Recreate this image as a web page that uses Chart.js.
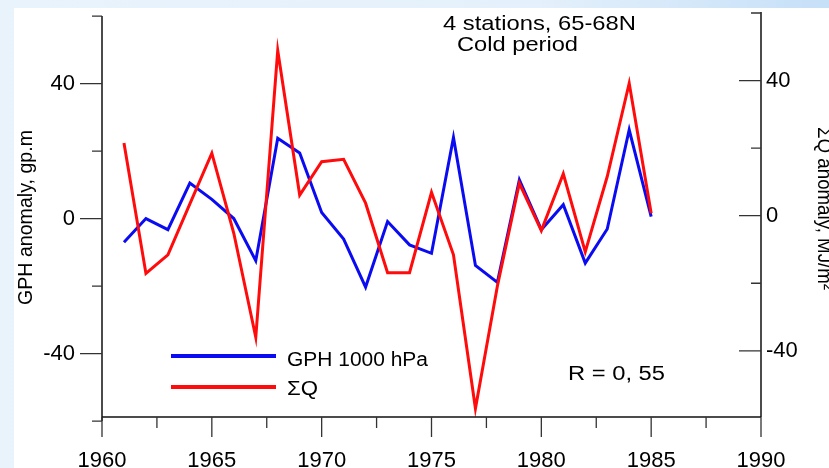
<!DOCTYPE html>
<html>
<head>
<meta charset="utf-8">
<title>GPH anomaly and ΣQ, cold period</title>
<script src="https://cdn.jsdelivr.net/npm/chart.js@4.4.1/dist/chart.umd.min.js"></script>
<style>
  html, body { margin: 0; padding: 0; }
  body {
    width: 829px; height: 468px; overflow: hidden; position: relative;
    background: linear-gradient(90deg, #e9f3fc 0%, #e4f0fb 65%, #c6e0f8 100%);
  }
  #paper { position: absolute; left: 14px; top: 8px; right: 0; bottom: 0; background: #fff; }
  #wrap { position: absolute; left: 0; top: 0; width: 829px; height: 468px; }
</style>
</head>
<body>
<div id="paper"></div>
<div id="wrap"><canvas id="chart"></canvas></div>
<script>
// ---- data ----
const YEARS = [1961, 1962, 1963, 1964, 1965, 1966, 1967, 1968, 1969, 1970, 1971, 1972, 1973,
               1974, 1975, 1976, 1977, 1978, 1979, 1980, 1981, 1982, 1983, 1984, 1985];
// GPH 1000 hPa anomaly, gp.m (left axis)
const GPH = [-7.0, 0.0, -3.3, 10.5, 5.7, 0.0, -12.5, 23.8, 19.4, 1.8, -6.1, -20.3, -0.9,
             -7.8, -10.3, 24.0, -13.9, -18.9, 11.5, -3.3, 4.1, -13.2, -3.1, 26.3, 0.6];
// ΣQ anomaly, MJ/m2 (right axis)
const SUM_Q = [21.5, -17.1, -11.6, 3.5, 18.5, -5.2, -36.0, 48.9, 6.1, 16.0, 16.7, 3.7, -16.9,
               -16.9, 6.9, -11.6, -57.1, -20.8, 9.6, -4.4, 12.4, -10.7, 11.6, 39.2, 0.7];

// ---- axis ticks ----
const X_LABELS = [1960, 1965, 1970, 1975, 1980, 1985, 1990];
const X_MINOR = [1962.5, 1967.5, 1972.5, 1977.5, 1982.5, 1987.5];
const Y_LABELS = [-40, 0, 40];
const Y_MINOR = [-60, -20, 20, 60];

const FONT = "'Liberation Sans', Arial, sans-serif";

// draw text squeezed/stretched to a given width (the original lettering is wide)
function fitText(ctx, text, x, y, size, width, angle, align) {
  ctx.save();
  ctx.font = `${size}px ${FONT}`;
  ctx.textAlign = align || "left";
  ctx.textBaseline = "alphabetic";
  ctx.fillStyle = "#000";
  ctx.translate(x, y);
  if (angle) ctx.rotate(angle);
  const w = ctx.measureText(text).width;
  ctx.scale(width / w, 1);
  ctx.fillText(text, 0, 0);
  ctx.restore();
}

// fixed axis boxes so the plot area sits where it does in the figure
function boxSize(size, key) {
  return s => {
    s[key] = size;
    s.paddingTop = s.paddingBottom = s.paddingLeft = s.paddingRight = 0;
  };
}

// axis lines, tick marks, legend and annotations
const frame = {
  id: "frame",
  afterDraw(chart) {
    const { ctx, chartArea: a, scales: { x, y, y2 } } = chart;
    ctx.save();

    // axis lines
    ctx.strokeStyle = "#111";
    ctx.lineWidth = 1.5;
    ctx.beginPath();
    ctx.moveTo(a.left, y.getPixelForValue(60));
    ctx.lineTo(a.left, y.getPixelForValue(-60));
    ctx.moveTo(a.left, a.bottom);
    ctx.lineTo(a.right, a.bottom);
    ctx.moveTo(a.right, a.top);
    ctx.lineTo(a.right, a.bottom);
    ctx.stroke();

    // tick marks
    ctx.strokeStyle = "#333";
    ctx.lineWidth = 1.3;
    ctx.beginPath();
    [...Y_LABELS, ...Y_MINOR].forEach(v => {
      const len = Y_LABELS.includes(v) ? 22 : 10;
      const p1 = y.getPixelForValue(v);
      ctx.moveTo(a.left - len, p1);
      ctx.lineTo(a.left, p1);
      const p2 = y2.getPixelForValue(v);
      if (p2 >= a.top - 1 && p2 <= a.bottom) {
        ctx.moveTo(a.right - len, p2);
        ctx.lineTo(a.right, p2);
      }
    });
    [...X_LABELS, ...X_MINOR].forEach(v => {
      const len = X_LABELS.includes(v) ? 20 : 11;
      const px = x.getPixelForValue(v);
      ctx.moveTo(px, a.bottom);
      ctx.lineTo(px, a.bottom + len);
    });
    ctx.stroke();

    // legend
    const ds = chart.data.datasets;
    const rows = [356, 387];
    ds.forEach((d, i) => {
      ctx.strokeStyle = d.borderColor;
      ctx.lineWidth = 4;
      ctx.beginPath();
      ctx.moveTo(171, rows[i]);
      ctx.lineTo(276, rows[i]);
      ctx.stroke();
    });
    fitText(ctx, ds[0].label, 287, 365.5, 20, 141);
    fitText(ctx, ds[1].label, 287, 395, 20, 31);

    // annotations
    fitText(ctx, "4 stations, 65-68N", 443, 30, 21, 193);
    fitText(ctx, "Cold period", 457, 50.5, 21, 121);
    fitText(ctx, "R = 0, 55", 568, 380, 20, 97);

    // axis titles
    fitText(ctx, "GPH anomaly, gp.m", 32, 217.5, 20, 175, -Math.PI / 2, "center");
    fitText(ctx, "ΣQ anomaly, MJ/m²", 818, 208.5, 20, 163, Math.PI / 2, "center");

    ctx.restore();
  }
};

const tickFont = { family: FONT, size: 22 };

new Chart(document.getElementById("chart"), {
  type: "line",
  data: {
    datasets: [
      {
        label: "GPH 1000 hPa",
        data: YEARS.map((yr, i) => ({ x: yr, y: GPH[i] })),
        yAxisID: "y",
        borderColor: "#0b0bf2",
        borderWidth: 3,
        pointRadius: 0,
        tension: 0,
        order: 2
      },
      {
        label: "ΣQ",
        data: YEARS.map((yr, i) => ({ x: yr, y: SUM_Q[i] })),
        yAxisID: "y2",
        borderColor: "#ff0b0b",
        borderWidth: 3,
        pointRadius: 0,
        tension: 0,
        order: 1
      }
    ]
  },
  options: {
    responsive: true,
    maintainAspectRatio: false,
    animation: false,
    layout: { padding: { top: 12, left: 0, right: 0, bottom: 0 } },
    plugins: { legend: { display: false }, tooltip: { enabled: false } },
    scales: {
      x: {
        type: "linear",
        min: 1960,
        max: 1990,
        grid: { display: false, drawTicks: false },
        border: { display: false },
        afterBuildTicks: s => { s.ticks = X_LABELS.map(v => ({ value: v })); },
        afterFit: boxSize(51, "height"),
        ticks: {
          padding: 31, color: "#000", font: tickFont,
          maxRotation: 0, autoSkip: false, callback: v => String(v)
        }
      },
      y: {
        position: "left",
        min: -58.8,
        max: 61.2,
        grid: { display: false, drawTicks: false },
        border: { display: false },
        afterBuildTicks: s => { s.ticks = Y_LABELS.map(v => ({ value: v })); },
        afterFit: boxSize(102, "width"),
        ticks: { padding: 27, color: "#000", font: tickFont, callback: v => String(v) }
      },
      y2: {
        position: "right",
        min: -59.6,
        max: 60.3,
        grid: { display: false, drawTicks: false },
        border: { display: false },
        afterBuildTicks: s => { s.ticks = Y_LABELS.map(v => ({ value: v })); },
        afterFit: boxSize(68, "width"),
        ticks: { padding: 5, color: "#000", font: tickFont, callback: v => String(v) }
      }
    }
  },
  plugins: [frame]
});
</script>
</body>
</html>
